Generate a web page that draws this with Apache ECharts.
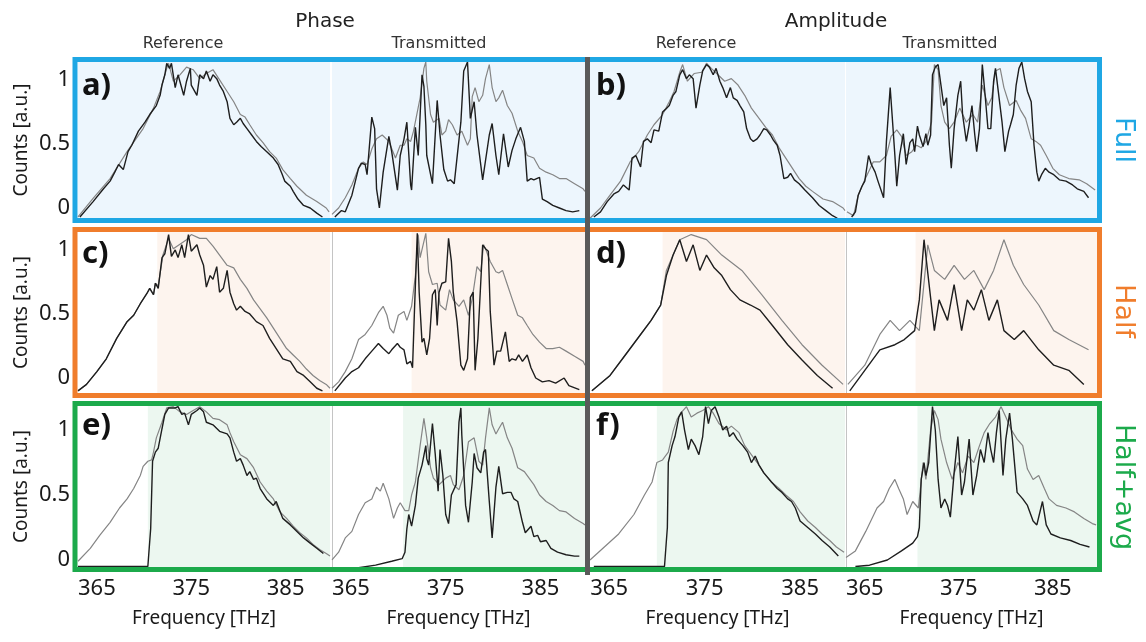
<!DOCTYPE html>
<html><head><meta charset="utf-8">
<script src="https://cdn.jsdelivr.net/npm/echarts@6/dist/echarts.min.js"></script>
<style>html,body{margin:0;padding:0;background:#fff}#c{width:1146px;height:642px}</style>
</head><body><div id="c"></div>
<script>
// ---------- tick labels / texts ----------
const freqTicks = [365, 375, 385];
const countTicks = [0, 0.5, 1];
const groupTitles = ['Phase', 'Amplitude'];
const colTitles = ['Reference', 'Transmitted', 'Reference', 'Transmitted'];
const rowNames = ['Full', 'Half', 'Half+avg'];
const panelLetters = [['a)', 'b)'], ['c)', 'd)'], ['e)', 'f)']];
// start frequency of shaded (kept) band, per row and column
const shadeStart = [[363, 363, 363, 363], [371.4, 371.4, 370.6, 370.4], [370.4, 370.5, 370.0, 370.6]];
const shadeEnd = 389.7;

// ---------- row 1 (Full) ----------
const aRefBlack = [[363.2,-0.07],[364.6,0.05],[365.7,0.15],[366.4,0.21],[366.9,0.28],[367.3,0.34],[367.8,0.30],[368.3,0.44],[368.7,0.49],[369.4,0.60],[370.1,0.67],[370.6,0.73],[371.3,0.80],[371.7,0.88],[371.9,0.96],[372.2,1.04],[372.4,1.13],[372.7,1.09],[372.9,1.13],[373.3,0.94],[373.6,1.04],[374.2,0.88],[374.5,0.99],[374.9,1.09],[375.0,0.96],[375.6,0.88],[375.9,1.04],[376.3,1.01],[376.6,1.07],[377.0,0.99],[377.3,1.04],[377.7,1.01],[378.0,0.96],[378.4,0.91],[378.8,0.83],[379.1,0.70],[379.5,0.65],[379.8,0.67],[380.2,0.70],[380.5,0.66],[380.9,0.62],[381.4,0.57],[381.9,0.52],[382.4,0.48],[383.0,0.44],[383.7,0.39],[384.2,0.34],[384.6,0.27],[384.9,0.21],[385.5,0.17],[385.8,0.13],[386.3,0.07],[386.9,0.02],[387.6,0.00],[388.3,-0.04],[388.9,-0.07]];
const aRefGray = [[363.0,-0.07],[364.6,0.075],[366.4,0.23],[368.2,0.44],[369.9,0.62],[371.0,0.78],[371.7,0.91],[372.4,1.09],[372.6,1.13],[373.1,0.99],[373.8,1.04],[374.5,1.10],[375.2,1.08],[375.9,1.01],[376.6,1.05],[377.3,1.08],[378.0,1.00],[378.8,0.91],[379.5,0.83],[380.2,0.73],[380.7,0.71],[381.2,0.65],[381.9,0.57],[382.6,0.51],[383.3,0.44],[384.0,0.39],[384.7,0.30],[385.5,0.23],[386.2,0.17],[387.2,0.10],[388.3,0.05],[389.3,0.00],[389.6,-0.03]];
const aTrBlack = [[363.3,-0.07],[364.0,-0.02],[364.4,-0.03],[365.1,0.10],[365.8,0.31],[366.1,0.35],[366.5,0.34],[366.7,0.26],[367.2,0.71],[367.5,0.62],[367.7,0.15],[368.0,0.0],[368.4,0.28],[369.0,0.56],[369.3,0.44],[369.9,0.14],[370.2,0.41],[370.6,0.54],[370.9,0.67],[371.3,0.18],[371.4,0.14],[371.8,0.63],[372.1,0.41],[372.5,1.04],[372.7,0.95],[372.9,0.65],[373.0,0.41],[373.6,0.19],[374.1,0.84],[374.4,0.57],[374.8,0.30],[375.2,0.21],[375.5,0.22],[375.9,0.19],[376.6,0.67],[376.9,1.07],[377.3,1.14],[377.6,0.70],[378.0,0.83],[378.3,0.57],[378.9,0.22],[379.6,0.57],[379.9,0.66],[380.3,0.41],[380.6,0.26],[381.1,0.58],[381.6,0.32],[382.0,0.45],[382.4,0.54],[382.9,0.63],[383.3,0.52],[383.6,0.21],[384.0,0.23],[384.3,0.22],[384.9,0.24],[385.2,0.07],[385.7,0.05],[386.3,0.02],[387.0,0.0],[387.7,-0.02],[388.4,-0.03],[389.1,-0.02]];
const aTrGray = [[363.0,-0.05],[363.7,0.0],[364.4,0.08],[365.1,0.18],[365.8,0.31],[366.3,0.36],[366.7,0.34],[367.2,0.46],[367.7,0.54],[368.3,0.57],[368.5,0.58],[369.0,0.52],[369.7,0.39],[370.2,0.49],[370.6,0.49],[370.9,0.54],[371.3,0.52],[371.6,0.60],[372.3,0.86],[372.7,1.09],[372.9,1.14],[373.0,0.99],[373.4,0.73],[373.7,0.67],[374.3,0.70],[374.6,0.57],[375.0,0.60],[375.3,0.69],[375.7,0.65],[376.2,0.57],[376.7,0.60],[377.3,0.49],[377.6,0.54],[377.8,0.87],[378.1,0.94],[378.5,0.83],[378.9,0.88],[379.2,1.01],[379.6,1.12],[379.9,0.94],[380.3,0.83],[380.6,0.86],[381.0,0.92],[381.5,0.80],[382.0,0.74],[382.6,0.60],[383.1,0.52],[383.6,0.41],[384.3,0.39],[384.9,0.31],[385.6,0.28],[386.3,0.26],[387.0,0.23],[387.7,0.23],[388.6,0.19],[389.5,0.15],[389.7,0.13]];
const bRefBlack = [[363.4,-0.07],[364.1,-0.03],[364.8,0.05],[365.5,0.11],[366.0,0.13],[366.5,0.18],[367.1,0.14],[367.4,0.39],[367.8,0.41],[368.3,0.32],[368.6,0.52],[369.0,0.54],[369.4,0.51],[369.7,0.61],[370.2,0.60],[370.6,0.75],[370.9,0.77],[371.3,0.80],[371.7,0.88],[372.0,0.91],[372.4,1.04],[372.7,1.08],[373.1,1.01],[373.4,1.04],[373.8,1.01],[374.1,0.78],[374.5,0.96],[374.8,1.07],[375.2,1.12],[375.5,1.10],[375.9,1.04],[376.2,1.09],[376.6,0.99],[376.9,0.94],[377.3,0.86],[377.7,0.94],[378.0,0.86],[378.4,0.84],[378.7,0.80],[379.1,0.75],[379.4,0.62],[379.8,0.54],[380.1,0.52],[380.5,0.54],[380.8,0.57],[381.2,0.62],[381.5,0.61],[381.9,0.57],[382.2,0.53],[382.6,0.49],[382.9,0.41],[383.3,0.23],[383.7,0.24],[384.0,0.27],[384.4,0.22],[384.9,0.19],[385.5,0.14],[386.3,0.08],[387.0,0.02],[387.7,-0.02],[388.4,-0.06],[388.9,-0.08]];
const bRefGray = [[363.0,-0.08],[364.1,0.0],[365.1,0.10],[366.2,0.21],[367.2,0.36],[368.1,0.44],[369.0,0.57],[369.7,0.65],[370.6,0.73],[371.3,0.83],[371.8,0.91],[372.4,1.06],[372.7,1.12],[373.2,0.99],[373.9,1.05],[374.7,1.06],[375.2,1.13],[375.7,1.09],[376.4,1.04],[377.1,0.99],[377.8,1.01],[378.5,0.96],[379.2,0.88],[379.9,0.78],[380.7,0.70],[381.4,0.63],[382.1,0.57],[382.8,0.47],[383.5,0.39],[384.2,0.31],[384.9,0.23],[385.6,0.17],[386.3,0.13],[387.4,0.07],[388.4,0.05],[389.5,0.0],[389.7,-0.02]];
const bTrBlack = [[363.6,-0.07],[364.0,-0.03],[364.3,0.10],[364.7,0.17],[365.0,0.21],[365.4,0.41],[365.7,0.34],[366.1,0.28],[366.4,0.21],[367.0,0.08],[367.3,0.52],[367.7,0.94],[367.9,0.73],[368.2,0.41],[368.4,0.17],[368.7,0.41],[369.1,0.58],[369.4,0.34],[369.8,0.51],[370.1,0.54],[370.3,0.44],[370.6,0.64],[370.8,0.57],[371.2,0.48],[371.5,0.58],[371.7,0.49],[372.0,0.57],[372.2,1.04],[372.5,1.10],[372.8,1.12],[373.1,0.96],[373.4,0.80],[373.7,0.86],[374.0,0.49],[374.2,0.31],[374.5,0.62],[374.9,0.88],[375.2,0.99],[375.4,0.73],[375.8,0.52],[376.1,0.65],[376.4,0.80],[376.7,0.57],[376.9,0.44],[377.2,0.62],[377.5,1.12],[377.8,0.88],[378.1,0.62],[378.4,0.62],[378.7,0.99],[378.9,1.09],[379.2,0.91],[379.6,0.67],[379.9,0.44],[380.3,0.60],[380.5,0.65],[380.8,0.73],[381.1,0.96],[381.4,1.09],[381.7,1.14],[382.0,1.01],[382.3,0.91],[382.7,0.83],[383.0,0.49],[383.3,0.28],[383.5,0.21],[383.8,0.26],[384.2,0.31],[384.6,0.28],[385.1,0.26],[385.7,0.22],[386.4,0.21],[387.1,0.18],[387.6,0.15],[388.3,0.13],[388.8,0.08]];
const bTrGray = [[363.1,-0.03],[363.8,-0.06],[364.3,0.10],[365.0,0.22],[365.9,0.36],[366.6,0.36],[367.3,0.41],[367.8,0.56],[368.4,0.61],[368.9,0.56],[369.4,0.41],[370.0,0.44],[370.5,0.49],[371.0,0.47],[371.5,0.52],[372.1,0.67],[372.4,1.12],[372.8,1.08],[373.1,0.80],[373.5,0.67],[374.0,0.62],[374.5,0.67],[375.1,0.78],[375.8,0.67],[376.5,0.73],[377.0,0.67],[377.5,0.96],[378.1,0.80],[378.5,0.86],[378.9,1.07],[379.4,1.09],[379.8,0.94],[380.4,0.80],[381.1,0.84],[381.6,0.76],[382.1,0.70],[382.7,0.54],[383.2,0.52],[383.7,0.49],[384.3,0.41],[385.0,0.31],[385.7,0.26],[386.7,0.23],[387.8,0.22],[388.6,0.19],[389.5,0.14]];

// ---------- row 2 (Half) ----------
const cRefBlack = [[363.0,-0.10],[363.9,-0.05],[365.0,0.05],[366.0,0.15],[367.1,0.31],[368.2,0.44],[368.9,0.49],[369.6,0.58],[370.3,0.66],[370.6,0.70],[371.0,0.65],[371.2,0.74],[371.5,0.70],[371.9,0.94],[372.2,0.97],[372.6,1.12],[372.9,0.95],[373.3,1.00],[373.6,0.94],[374.0,1.04],[374.3,0.94],[374.7,1.12],[375.0,0.99],[375.6,1.04],[375.9,0.96],[376.3,0.88],[376.6,0.71],[377.0,0.80],[377.3,0.77],[377.7,0.87],[378.0,0.67],[378.4,0.70],[378.8,0.84],[379.1,0.67],[379.5,0.58],[379.8,0.53],[380.2,0.56],[380.7,0.52],[381.2,0.50],[381.9,0.44],[382.6,0.41],[383.3,0.31],[384.0,0.23],[384.7,0.15],[385.5,0.13],[386.2,0.05],[386.9,0.02],[387.6,-0.03],[388.3,-0.08],[388.9,-0.10]];
const cRefGray = [[363.0,-0.10],[363.9,-0.05],[365.0,0.05],[366.0,0.15],[367.1,0.31],[368.2,0.44],[368.9,0.49],[369.6,0.58],[370.3,0.66],[370.6,0.70],[371.0,0.65],[371.2,0.74],[371.5,0.72],[372.0,0.96],[372.6,1.09],[373.1,1.01],[374.5,1.08],[375.0,1.12],[375.9,1.09],[376.6,1.09],[377.3,1.03],[378.0,0.96],[378.8,0.88],[379.5,0.86],[380.2,0.77],[380.9,0.70],[381.6,0.61],[382.3,0.54],[383.0,0.47],[383.7,0.39],[384.4,0.31],[385.1,0.23],[385.8,0.18],[386.5,0.13],[387.2,0.07],[387.9,0.02],[388.6,-0.02],[389.3,-0.05],[389.7,-0.08]];
const cTrBlack = [[363.3,-0.10],[364.4,0.0],[365.1,0.05],[365.8,0.08],[366.5,0.15],[367.2,0.21],[367.9,0.27],[368.4,0.23],[369.0,0.19],[369.3,0.22],[369.9,0.27],[370.2,0.24],[370.6,0.22],[370.9,0.11],[371.3,0.13],[371.5,0.08],[371.7,0.52],[372.0,1.13],[372.2,0.67],[372.5,0.28],[372.7,0.31],[373.0,0.18],[373.3,0.31],[373.6,0.65],[373.9,0.69],[374.1,0.41],[374.3,0.67],[374.6,0.74],[375.0,0.75],[375.3,1.09],[375.6,0.91],[375.8,0.67],[376.2,0.44],[376.6,0.10],[376.9,0.06],[377.3,0.15],[377.6,0.63],[377.9,0.67],[378.1,0.06],[378.4,0.31],[378.9,1.04],[379.2,1.01],[379.5,0.99],[379.7,0.52],[380.1,0.10],[380.4,0.21],[380.8,0.21],[381.3,0.36],[381.7,0.13],[382.0,0.15],[382.4,0.14],[382.7,0.18],[383.1,0.13],[383.6,0.18],[384.0,0.08],[384.5,0.0],[385.2,-0.03],[385.9,-0.02],[386.6,-0.04],[387.5,0.0],[388.0,-0.06],[389.1,-0.09]];
const cTrGray = [[363.0,-0.08],[363.7,-0.03],[364.4,0.05],[365.1,0.15],[365.8,0.30],[366.5,0.34],[367.2,0.41],[367.9,0.51],[368.4,0.56],[368.8,0.49],[369.1,0.39],[369.5,0.35],[370.0,0.49],[370.6,0.52],[370.9,0.45],[371.4,0.56],[371.8,0.80],[372.1,1.12],[372.3,0.94],[372.9,1.13],[373.2,0.83],[373.6,0.73],[374.1,0.74],[374.4,0.57],[375.0,0.53],[375.4,0.69],[375.8,0.61],[376.4,0.56],[376.9,0.61],[377.4,0.49],[377.8,0.62],[378.3,0.87],[378.7,0.83],[379.0,1.04],[379.3,0.99],[379.7,0.91],[380.3,0.83],[380.6,0.82],[381.0,0.84],[381.5,0.73],[382.0,0.62],[382.6,0.49],[383.1,0.47],[383.6,0.41],[384.2,0.34],[384.9,0.28],[385.6,0.23],[386.3,0.23],[387.0,0.24],[387.7,0.21],[388.6,0.17],[389.5,0.13],[389.7,0.10]];
const dRefBlack = [[363.2,-0.10],[365.1,0.02],[366.7,0.18],[368.3,0.34],[369.4,0.45],[370.4,0.57],[371.0,0.80],[371.7,0.96],[372.4,1.08],[373.1,0.91],[373.8,1.04],[374.5,0.84],[375.2,0.96],[376.0,0.86],[376.8,0.80],[377.7,0.69],[378.7,0.61],[379.8,0.57],[380.8,0.53],[382.1,0.41],[383.7,0.26],[385.2,0.14],[386.8,0.02],[388.4,-0.08]];
const dRefGray = [[363.2,-0.10],[365.1,0.02],[366.7,0.18],[368.3,0.34],[369.4,0.45],[370.4,0.57],[371.0,0.84],[372.4,1.08],[373.6,1.12],[375.2,1.08],[376.8,0.96],[378.9,0.84],[381.0,0.65],[383.1,0.45],[385.2,0.26],[387.3,0.10],[389.5,-0.05]];
const dTrBlack = [[363.4,-0.10],[365.0,0.06],[366.6,0.22],[368.2,0.26],[369.2,0.30],[370.3,0.37],[370.8,0.61],[371.3,1.08],[371.9,0.69],[372.4,0.37],[372.9,0.61],[373.8,0.45],[374.5,0.73],[375.3,0.37],[375.9,0.61],[376.6,0.53],[377.4,0.69],[378.2,0.45],[379.1,0.61],[379.8,0.37],[380.9,0.30],[381.9,0.37],[383.5,0.22],[385.1,0.10],[386.7,0.06],[388.3,-0.05]];
const dTrGray = [[363.2,-0.05],[365.0,0.10],[366.6,0.34],[367.7,0.45],[368.7,0.37],[369.8,0.45],[370.8,0.37],[371.7,1.04],[372.4,0.84],[373.5,0.77],[374.5,0.88],[375.6,0.77],[376.6,0.84],[377.7,0.69],[378.7,0.84],[379.8,1.08],[380.8,0.88],[381.9,0.73],[383.5,0.57],[385.1,0.37],[386.7,0.30],[388.8,0.22]];

// ---------- row 3 (Half+avg) ----------
const eRefBlack = [[363.0,-0.05],[370.4,-0.05],[370.7,0.24],[370.9,0.76],[371.2,0.83],[371.5,0.86],[371.9,1.01],[372.2,1.12],[372.6,1.17],[372.9,1.17],[373.3,1.17],[373.6,1.18],[374.0,1.12],[374.3,1.13],[374.7,1.04],[375.0,1.12],[375.6,1.15],[375.9,1.17],[376.3,1.14],[376.6,1.06],[377.3,1.04],[378.0,0.99],[378.8,0.97],[379.1,0.94],[379.5,0.83],[379.8,0.76],[380.2,0.78],[380.5,0.73],[380.9,0.65],[381.2,0.68],[381.6,0.62],[381.9,0.63],[382.3,0.55],[383.0,0.47],[383.7,0.42],[384.0,0.45],[384.7,0.32],[385.5,0.27],[386.2,0.22],[386.9,0.17],[387.6,0.13],[388.3,0.09],[389.0,0.05]];
const eRefGray = [[363.0,-0.01],[364.3,0.09],[365.3,0.19],[366.4,0.29],[367.4,0.40],[368.2,0.47],[368.9,0.55],[369.6,0.65],[369.9,0.72],[370.4,0.76],[370.8,0.77],[371.0,0.83],[371.3,0.94],[371.9,1.06],[372.4,1.17],[373.1,1.18],[373.8,1.14],[374.5,1.12],[375.2,1.15],[375.9,1.18],[376.6,1.14],[377.3,1.09],[378.0,1.08],[378.8,1.04],[379.1,0.98],[379.5,0.91],[380.2,0.81],[380.9,0.78],[381.6,0.71],[382.3,0.60],[383.0,0.53],[383.7,0.47],[384.4,0.37],[385.1,0.32],[385.8,0.26],[386.5,0.21],[387.2,0.17],[387.9,0.12],[388.6,0.08],[389.3,0.05],[389.7,0.03]];
const eTrBlack = [[363.3,-0.06],[365.8,-0.06],[367.6,-0.04],[369.3,-0.01],[370.4,0.01],[370.7,0.06],[370.9,0.24],[371.1,0.35],[371.4,0.26],[371.8,0.42],[372.1,0.63],[372.5,0.73],[372.9,0.88],[373.0,0.78],[373.2,0.73],[373.6,1.05],[373.9,0.81],[374.2,0.53],[374.4,0.85],[374.7,0.65],[375.0,0.35],[375.3,0.28],[375.6,0.50],[376.1,0.58],[376.4,1.06],[376.6,1.17],[376.7,0.96],[377.1,0.42],[377.4,0.29],[377.8,0.60],[378.0,0.82],[378.3,0.71],[378.7,0.67],[379.0,0.83],[379.2,0.85],[379.6,0.45],[379.9,0.17],[380.3,0.56],[380.6,0.72],[381.0,0.51],[381.5,0.52],[381.9,0.52],[382.2,0.47],[382.6,0.45],[383.1,0.29],[383.4,0.21],[383.6,0.22],[384.0,0.26],[384.3,0.18],[384.7,0.19],[385.0,0.14],[385.6,0.15],[386.1,0.09],[386.8,0.06],[387.7,0.04],[388.6,0.03],[389.1,0.03]];
const eTrGray = [[363.0,0.0],[363.7,0.06],[364.4,0.17],[365.1,0.22],[365.8,0.35],[366.5,0.44],[367.2,0.47],[367.7,0.56],[368.1,0.53],[368.4,0.59],[369.0,0.47],[369.5,0.32],[369.9,0.40],[370.2,0.44],[370.7,0.38],[371.1,0.38],[371.4,0.50],[371.8,0.60],[372.3,0.88],[372.7,1.09],[373.0,0.94],[373.4,0.71],[373.7,0.63],[374.3,0.58],[374.6,0.60],[375.0,0.63],[375.5,0.65],[375.8,0.58],[376.4,0.54],[376.9,0.65],[377.4,0.91],[378.0,0.94],[378.5,0.76],[378.9,0.73],[379.2,0.94],[379.6,1.17],[379.9,1.04],[380.3,0.97],[380.6,1.01],[381.0,1.06],[381.5,0.94],[382.0,0.86],[382.6,0.71],[383.3,0.68],[383.8,0.63],[384.3,0.58],[384.9,0.50],[385.6,0.45],[386.3,0.42],[387.0,0.38],[387.7,0.37],[388.6,0.32],[389.5,0.28],[389.7,0.27]];
const fRefBlack = [[363.4,-0.05],[370.8,-0.05],[371.1,0.25],[371.2,0.75],[371.6,0.88],[371.9,0.95],[372.3,1.10],[372.6,1.14],[372.9,1.00],[373.3,0.85],[373.6,0.93],[374.0,0.88],[374.4,0.81],[374.8,0.95],[375.1,1.18],[375.4,1.05],[375.7,1.15],[376.1,1.18],[376.5,1.10],[376.9,1.00],[377.3,1.03],[377.6,0.95],[378.0,0.98],[378.4,0.93],[379.0,0.88],[379.5,0.83],[379.9,0.75],[380.3,0.80],[380.7,0.73],[381.2,0.67],[382.0,0.60],[382.6,0.55],[383.1,0.52],[383.7,0.47],[384.1,0.45],[384.5,0.40],[385.0,0.30],[385.8,0.25],[386.6,0.20],[387.3,0.15],[388.1,0.10],[389.0,0.03]];
const fRefGray = [[363.0,0.0],[364.5,0.10],[366.0,0.20],[367.6,0.35],[368.7,0.50],[369.5,0.60],[370.0,0.75],[370.6,0.77],[371.2,0.83],[371.7,0.99],[372.1,1.08],[372.5,1.13],[373.1,1.18],[373.6,1.10],[374.2,1.13],[374.8,1.15],[375.4,1.18],[375.9,1.13],[376.5,1.05],[377.3,1.00],[377.8,1.03],[378.6,0.98],[379.2,0.88],[379.7,0.83],[380.5,0.75],[381.2,0.67],[382.0,0.60],[382.8,0.55],[383.5,0.50],[384.3,0.45],[385.0,0.37],[385.8,0.30],[386.6,0.25],[387.3,0.20],[388.1,0.15],[388.8,0.10],[389.6,0.06]];
const fTrBlack = [[364.0,-0.05],[365.5,-0.04],[367.4,0.0],[368.9,0.07],[370.1,0.13],[370.6,0.18],[370.8,0.25],[371.0,0.62],[371.3,0.75],[371.5,0.65],[371.8,0.75],[372.2,1.18],[372.5,1.00],[372.8,0.62],[373.1,0.40],[373.5,0.47],[373.8,0.42],[374.1,0.33],[374.5,0.67],[374.9,0.95],[375.3,0.50],[375.6,0.60],[376.1,0.93],[376.5,0.50],[376.9,0.65],[377.3,0.85],[377.7,0.75],[378.1,0.98],[378.4,0.85],[378.7,0.75],[379.0,0.98],[379.3,1.15],[379.7,0.65],[380.0,0.93],[380.4,1.13],[380.7,0.93],[381.2,0.52],[381.8,0.47],[382.3,0.42],[382.9,0.30],[383.3,0.27],[383.9,0.45],[384.3,0.27],[384.8,0.20],[385.8,0.17],[386.9,0.15],[387.9,0.12],[388.9,0.10]];
const fTrGray = [[363.0,0.02],[364.0,0.07],[365.1,0.22],[366.3,0.40],[367.0,0.45],[367.6,0.55],[368.2,0.62],[368.6,0.55],[369.1,0.47],[369.5,0.35],[370.1,0.45],[370.7,0.40],[371.2,0.75],[371.5,0.62],[372.0,1.00],[372.4,1.15],[372.8,1.08],[373.1,0.93],[373.7,0.75],[374.3,0.62],[374.9,0.75],[375.4,0.67],[376.0,0.80],[376.6,0.75],[377.2,0.88],[377.7,0.98],[378.3,1.05],[378.9,1.10],[379.5,1.18],[380.0,1.10],[380.6,1.00],[381.2,0.93],[381.8,0.88],[382.3,0.70],[382.9,0.62],[383.5,0.65],[384.1,0.55],[384.6,0.47],[385.4,0.42],[386.4,0.40],[387.3,0.37],[388.3,0.32],[389.2,0.28],[389.6,0.27]];

const blackData = [[aRefBlack, aTrBlack, bRefBlack, bTrBlack],[cRefBlack, cTrBlack, dRefBlack, dTrBlack],[eRefBlack, eTrBlack, fRefBlack, fTrBlack]];
const grayData  = [[aRefGray, aTrGray, bRefGray, bTrGray],[cRefGray, cTrGray, dRefGray, dTrGray],[eRefGray, eTrGray, fRefGray, fTrGray]];

// ---------- layout ----------
const colLayout = [{left:78,width:252},{left:332,width:253},{left:590,width:255},{left:846,width:251}];
const rowLayout = [{top:62,height:156,min:-0.078,max:1.14},{top:232,height:161,min:-0.117,max:1.14},{top:406,height:161,min:-0.054,max:1.185}];
const rowColors = ['#1fa7e4','#f07d2c','#1caa4b'];
const shadeColors = ['#edf6fd','#fdf4ee','#ecf7f0'];
const FONT = 'Noto Sans';
const HAND = 'DejaVu Sans';

const grid = [], xAxis = [], yAxis = [], series = [];
let gi = 0;
for (let r = 0; r < 3; r++) {
  for (let c = 0; c < 4; c++) {
    const R = rowLayout[r], C = colLayout[c];
    grid.push({left: C.left, top: R.top, width: C.width, height: R.height, containLabel: false});
    const bottomRow = r === 2;
    xAxis.push({
      type: 'value', gridIndex: gi, min: 363, max: 389.7,
      axisLine: {show: false}, axisTick: {show: false}, splitLine: {show: false},
      axisLabel: {show: bottomRow, customValues: freqTicks, fontFamily: FONT, fontSize: 22, color: '#1a1a1a', margin: 11},
      name: bottomRow ? 'Frequency [THz]' : '', nameLocation: 'middle', nameGap: 42,
      nameTextStyle: {fontFamily: FONT, fontSize: 19, color: '#1a1a1a'}
    });
    yAxis.push({
      type: 'value', gridIndex: gi, min: R.min, max: R.max,
      axisLine: {show: c === 1 || c === 3, lineStyle: {color: '#c4c4c4', width: 1}},
      axisTick: {show: false}, splitLine: {show: false},
      axisLabel: {show: c === 0, customValues: countTicks, fontFamily: FONT, fontSize: 22, color: '#1a1a1a', margin: 8},
      name: c === 0 ? 'Counts [a.u.]' : '', nameLocation: 'middle', nameGap: 47,
      nameTextStyle: {fontFamily: FONT, fontSize: 19, color: '#1a1a1a'}
    });
    series.push({
      type: 'line', xAxisIndex: gi, yAxisIndex: gi, data: [], silent: true, z: 1,
      markArea: {silent: true, itemStyle: {color: shadeColors[r]},
        data: [[{coord: [shadeStart[r][c], R.min]}, {coord: [shadeEnd, R.max]}]]}
    });
    series.push({
      type: 'line', xAxisIndex: gi, yAxisIndex: gi, data: grayData[r][c], showSymbol: false,
      silent: true, z: 2, lineStyle: {color: '#858585', width: 1.2}, clip: true
    });
    series.push({
      type: 'line', xAxisIndex: gi, yAxisIndex: gi, data: blackData[r][c], showSymbol: false,
      silent: true, z: 3, lineStyle: {color: '#1e1e1e', width: 1.4}, clip: true
    });
    gi++;
  }
}

const graphic = [];
// frames per row
const frameY = [[59.5,220.5],[229.5,395.5],[403.5,569.5]];
for (let r = 0; r < 3; r++) {
  graphic.push({type: 'rect', z: 100, shape: {x: 75, y: frameY[r][0], width: 1024.5, height: frameY[r][1] - frameY[r][0]},
    style: {fill: null, stroke: rowColors[r], lineWidth: 5}});
}
graphic.push({type: 'line', z: 101, shape: {x1: 587.5, y1: 57, x2: 587.5, y2: 575}, style: {stroke: '#5a5a5a', lineWidth: 5}});
// panel letters
const letterY = [86, 254, 426];
for (let r = 0; r < 3; r++) {
  [82, 596].forEach((x, k) => graphic.push({type: 'text', z: 102, x: x, y: letterY[r],
    style: {text: panelLetters[r][k], font: 'bold 31px "Noto Sans"', fill: '#111', textVerticalAlign: 'middle'}}));
}
// titles
[325, 836].forEach((x, k) => graphic.push({type: 'text', z: 102, x: x, y: 22,
  style: {text: groupTitles[k], font: '20px "' + HAND + '"', fill: '#222', textAlign: 'center', textVerticalAlign: 'middle'}}));
[183, 439, 696, 950].forEach((x, k) => graphic.push({type: 'text', z: 102, x: x, y: 44,
  style: {text: colTitles[k], font: '16px "' + HAND + '"', fill: '#333', textAlign: 'center', textVerticalAlign: 'middle'}}));
// row names on the right
[140, 311, 487].forEach((y, r) => graphic.push({type: 'text', z: 102, x: 1123, y: y, rotation: -Math.PI / 2,
  style: {text: rowNames[r], font: '27px "' + HAND + '"', fill: rowColors[r], textAlign: 'center', textVerticalAlign: 'middle'}}));

const chart = echarts.init(document.getElementById('c'), null, {renderer: 'canvas'});
chart.setOption({animation: false, backgroundColor: '#ffffff', grid, xAxis, yAxis, series, graphic});
</script></body></html>
